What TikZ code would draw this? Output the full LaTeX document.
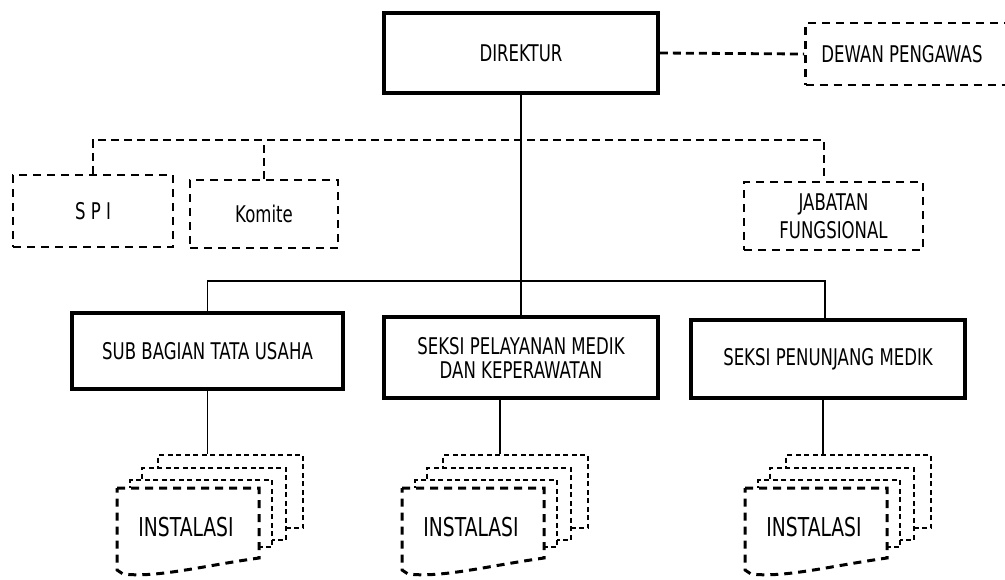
\documentclass[tikz,border=0pt]{standalone}
\usepackage{fontspec}
\setmainfont{DejaVu Sans}[FakeStretch=0.72]
\begin{document}
\begin{tikzpicture}[x=1pt,y=-1pt,
  box/.style={draw, line width=3.8pt, inner sep=0pt, align=center, font=\fontsize{23}{24}\selectfont},
  dbox/.style={draw, line width=2.8pt, dash pattern=on 8pt off 6pt, inner sep=0pt, align=center, font=\fontsize{23}{28}\selectfont},
  conn/.style={line width=1.3pt},
  dconn/.style={line width=2.8pt, dash pattern=on 8pt off 5pt},
  sheet/.style={draw, fill=white, line width=1.6pt, dash pattern=on 5pt off 3.5pt, inner sep=0pt},
  front/.style={draw, fill=white, line width=3pt, dash pattern=on 8pt off 6pt},
  lbl/.style={font=\fontsize{26}{28}\selectfont, inner sep=0pt}
]
\useasboundingbox (0,0) rectangle (1005,579);

% top level
\node[box, minimum width=274pt, minimum height=80pt] (dir) at (521,53) {DIREKTUR};
\node[dbox, minimum width=205pt, minimum height=62pt] (dew) at (908,54) {DEWAN PENGAWAS\hspace*{12pt}};
\draw[dconn] (dir.east) -- (dew.west);

% staff level (dashed)
\node[dbox, minimum width=160pt, minimum height=72pt] (spi) at (93,211) {S P I};
\node[dbox, minimum width=148pt, minimum height=68pt] (kom) at (264,214) {Komite};
\node[dbox, minimum width=179pt, minimum height=68pt] (jab) at (833.5,216) {JABATAN\\FUNGSIONAL};
\coordinate (dj) at (824,140);
\draw[dconn] (spi.north) |- (dj) -- (jab.north -| dj);
\draw[dconn] (kom.north) -- (kom.north |- dj);

% section level
\node[box, minimum width=271pt, minimum height=76pt] (sub) at (207.5,351) {SUB BAGIAN TATA USAHA};
\node[box, minimum width=274pt, minimum height=81pt] (mid) at (521,357.5) {SEKSI PELAYANAN MEDIK\\DAN KEPERAWATAN};
\node[box, minimum width=274pt, minimum height=78pt] (pen) at (828,359) {SEKSI PENUNJANG MEDIK};

\coordinate (hr) at (825,281);
\draw[conn] (dir.south) -- (mid.north);
\draw[conn] (sub.north) |- (hr) -- (pen.north -| hr);

% instalasi stacks
\foreach \fx/\n in {117/1,402/2,745/3}{
  \node[sheet, minimum width=145pt, minimum height=73pt] (back\n) at (\fx+113.5,491.5) {};
  \node[sheet, minimum width=144pt, minimum height=72pt] (sec\n) at (\fx+97,504) {};
  \node[sheet, minimum width=142pt, minimum height=67pt] (thi\n) at (\fx+84,513.5) {};
  \draw[front] (\fx,488) -- (\fx+142,488) -- (\fx+142,558)
     .. controls (\fx+85,566) and (\fx+40,578) .. (\fx+6,574)
     -- (\fx,570) -- cycle;
  \node[lbl] (ins\n) at (\fx+69,527) {INSTALASI};
}
\coordinate (c2) at (500,0);
\coordinate (c3) at (823,0);
\draw[conn] (sub.south) -- (sub.south |- back1.north);
\draw[conn] (mid.south -| c2) -- (back2.north -| c2);
\draw[conn] (pen.south -| c3) -- (back3.north -| c3);
\end{tikzpicture}
\end{document}
